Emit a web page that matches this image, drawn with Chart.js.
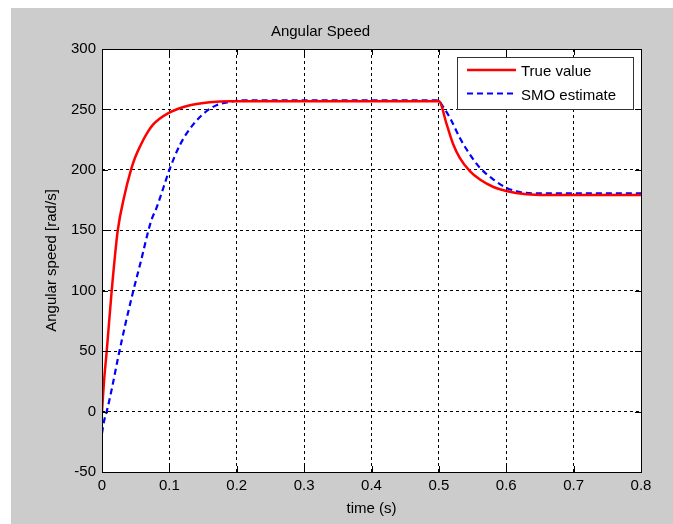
<!DOCTYPE html>
<html lang="en">
<head>
    <meta charset="UTF-8">
    <title>Angular Speed</title>
    <script src="https://cdn.jsdelivr.net/npm/chart.js"></script>
    <style>
        body { margin: 0; background: #fff; }
        canvas { display: block; }
    </style>
</head>
<body>
    <canvas id="speedChart" width="673" height="524"></canvas>

    <script>
        // Measured speed (true value)
        const timeTrue = [0, 0.003, 0.007, 0.0144, 0.0233, 0.033, 0.043, 0.049, 0.057, 0.066, 0.076, 0.0985, 0.1306, 0.16, 0.19, 0.22, 0.3, 0.4, 0.5,
            0.5116, 0.5214, 0.531, 0.546, 0.561, 0.581, 0.6, 0.63, 0.66, 0.7, 0.8];
        const speedTrue = [0, 25, 50, 100, 149.5, 178, 200, 210, 220, 229.5, 237.6, 247, 253.5, 256, 256.8, 256.8, 256.8, 256.8, 256.8,
            237.6, 221, 210, 199, 192, 185.8, 182.5, 179.8, 179.2, 179.2, 179.2];

        // Sliding mode observer estimate
        const timeEst = [0, 0.003, 0.007, 0.015, 0.024, 0.035, 0.0465, 0.058, 0.0687, 0.0737, 0.081, 0.091, 0.1, 0.116, 0.1355, 0.155, 0.17, 0.19, 0.205, 0.22, 0.3, 0.4, 0.5,
            0.503, 0.5165, 0.531, 0.546, 0.561, 0.581, 0.6, 0.62, 0.64, 0.7, 0.8];
        const speedEst = [-18, -8, 0, 20, 45, 73, 100, 125, 149.5, 159, 168.7, 185, 200, 221, 237.6, 248.5, 253.5, 256.2, 257.4, 257.6, 257.6, 257.6, 257.6,
            255, 243, 226.5, 212.8, 201.7, 192, 185.2, 181.7, 180.6, 180.6, 180.6];

        const xTicks = [0, 0.1, 0.2, 0.3, 0.4, 0.5, 0.6, 0.7, 0.8];
        const yTicks = [-50, 0, 50, 100, 150, 200, 250, 300];

        const FONT = 'Liberation Sans, Arial, sans-serif';

        function toPoints(xs, ys) {
            return xs.map((x, i) => ({ x: x, y: ys[i] }));
        }

        // Gray figure background, white axes box, frame, inward ticks and legend
        const figurePlugin = {
            id: 'figure',
            beforeDraw(chart) {
                const ctx = chart.ctx;
                const a = chart.chartArea;
                ctx.save();
                ctx.fillStyle = '#ffffff';
                ctx.fillRect(0, 0, chart.width, chart.height);
                ctx.fillStyle = '#cccccc';
                ctx.fillRect(11, 8, chart.width - 11, chart.height - 8);
                ctx.fillStyle = '#ffffff';
                ctx.fillRect(a.left, a.top, a.right - a.left, a.bottom - a.top);
                ctx.restore();
            },
            afterDraw(chart) {
                const ctx = chart.ctx;
                const a = chart.chartArea;
                const xs = chart.scales.x;
                const ys = chart.scales.y;
                ctx.save();
                ctx.strokeStyle = '#000';
                ctx.lineWidth = 1;
                ctx.setLineDash([]);
                ctx.beginPath();
                xTicks.forEach(v => {
                    const px = Math.round(xs.getPixelForValue(v)) + 0.5;
                    ctx.moveTo(px, a.bottom); ctx.lineTo(px, a.bottom - 6);
                    ctx.moveTo(px, a.top); ctx.lineTo(px, a.top + 6);
                });
                yTicks.forEach(v => {
                    const py = Math.round(ys.getPixelForValue(v)) + 0.5;
                    ctx.moveTo(a.left, py); ctx.lineTo(a.left + 6, py);
                    ctx.moveTo(a.right, py); ctx.lineTo(a.right - 6, py);
                });
                ctx.stroke();
                ctx.strokeRect(Math.round(a.left) + 0.5, Math.round(a.top) + 0.5,
                    Math.round(a.right - a.left), Math.round(a.bottom - a.top));

                // Legend box in the upper right corner
                const lx = 457, ly = 57, lw = 176, lh = 52;
                ctx.fillStyle = '#ffffff';
                ctx.fillRect(lx, ly, lw, lh);
                ctx.strokeStyle = '#333';
                ctx.strokeRect(lx + 0.5, ly + 0.5, lw, lh);
                ctx.font = '15px ' + FONT;
                ctx.textBaseline = 'middle';
                ctx.textAlign = 'left';
                chart.data.datasets.forEach((ds, i) => {
                    const y = ly + 13 + i * 23.5;
                    ctx.strokeStyle = ds.borderColor;
                    ctx.lineWidth = ds.borderWidth;
                    ctx.setLineDash(ds.borderDash || []);
                    ctx.beginPath();
                    ctx.moveTo(467, y);
                    ctx.lineTo(516, y);
                    ctx.stroke();
                    ctx.setLineDash([]);
                    ctx.fillStyle = '#000';
                    ctx.fillText(ds.label, 521, y + 2);
                });
                ctx.restore();
            }
        };

        const ctx = document.getElementById('speedChart').getContext('2d');
        const speedChart = new Chart(ctx, {
            type: 'line',
            data: {
                datasets: [{
                    label: 'True value',
                    data: toPoints(timeTrue, speedTrue),
                    borderColor: '#ff0000',
                    borderWidth: 2.5,
                    pointRadius: 0,
                    cubicInterpolationMode: 'monotone',
                    fill: false
                }, {
                    label: 'SMO estimate',
                    data: toPoints(timeEst, speedEst),
                    borderColor: '#0000ff',
                    borderWidth: 2.2,
                    borderDash: [6, 4],
                    pointRadius: 0,
                    cubicInterpolationMode: 'monotone',
                    fill: false
                }]
            },
            options: {
                responsive: false,
                animation: false,
                layout: { padding: { left: 0, right: 32, top: 0, bottom: 0 } },
                plugins: {
                    legend: { display: false },
                    tooltip: { enabled: false },
                    title: {
                        display: true,
                        text: 'Angular Speed',
                        color: '#000',
                        font: { family: FONT, size: 15, weight: 'normal' },
                        padding: { top: 23, bottom: 8 }
                    }
                },
                scales: {
                    x: {
                        type: 'linear',
                        min: 0,
                        max: 0.8,
                        afterBuildTicks: s => { s.ticks = xTicks.map(v => ({ value: v })); },
                        afterFit: s => { s.height = 52; },
                        ticks: {
                            color: '#000',
                            padding: 5,
                            maxRotation: 0,
                            font: { family: FONT, size: 15 },
                            callback: v => String(v)
                        },
                        grid: { color: '#000', lineWidth: 1, drawTicks: false },
                        border: { display: false, dash: [3, 3] },
                        title: {
                            display: true,
                            text: 'time (s)',
                            color: '#000',
                            font: { family: FONT, size: 15 },
                            padding: { top: 0, bottom: 6 }
                        }
                    },
                    y: {
                        min: -50,
                        max: 300,
                        afterBuildTicks: s => { s.ticks = yTicks.map(v => ({ value: v })); },
                        afterFit: s => { s.width = 102; },
                        ticks: {
                            color: '#000',
                            padding: 6,
                            font: { family: FONT, size: 15 }
                        },
                        grid: { color: '#000', lineWidth: 1, drawTicks: false },
                        border: { display: false, dash: [3, 3] },
                        title: {
                            display: true,
                            text: 'Angular speed [rad/s]',
                            color: '#000',
                            font: { family: FONT, size: 15 },
                            padding: { top: 43, bottom: 0 }
                        }
                    }
                }
            },
            plugins: [figurePlugin]
        });
    </script>
</body>
</html>
